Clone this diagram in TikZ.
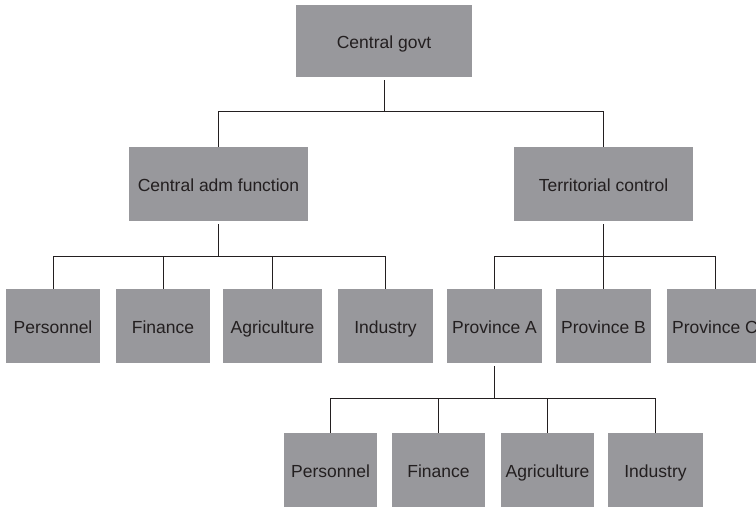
\documentclass[tikz,border=0pt]{standalone}
\usepackage{fontspec}
\setmainfont{Liberation Sans}
\definecolor{boxgray}{RGB}{152,152,156}
\definecolor{inkgray}{RGB}{35,31,32}
\begin{document}
\begin{tikzpicture}[x=1pt,y=-1pt,
      unit/.style={fill=boxgray,text=inkgray,inner sep=0pt,
        minimum width=94pt,minimum height=74pt,
        text height=14.5pt,text depth=0pt,
        font=\fontsize{17.5}{20}\selectfont},
      link/.style={draw=inkgray,line width=0.9pt}]
      \useasboundingbox (0,0) rectangle (756,507);
      % top level
      \path (384,41) node[unit,minimum width=176pt,minimum height=72pt] (govt) {Central govt};
      \path (218.5,184) node[unit,minimum width=179pt] (adm) {Central adm function};
      \path (603.5,184) node[unit,minimum width=179pt] (terr) {Territorial control};
      % ministries
      \path (53,326) node[unit] (pers) {Personnel};
      \path (163,326) node[unit] (fin) {Finance};
      \path (272.5,326) node[unit,minimum width=99pt] (agr) {Agriculture};
      \path (385.5,326) node[unit,minimum width=95pt] (ind) {Industry};
      % provinces
      \path (494.5,326) node[unit,minimum width=95pt] (provA) {Province A};
      \path (603.5,326) node[unit,minimum width=95pt] (provB) {Province B};
      \path (715,326) node[unit,minimum width=96pt] (provC) {Province C};
      % offices of province A
      \path (330.5,470) node[unit,minimum width=93pt] (apers) {Personnel};
      \path (438.5,470) node[unit,minimum width=93pt] (afin) {Finance};
      \path (547.5,470) node[unit,minimum width=93pt] (aagr) {Agriculture};
      \path (655.5,470) node[unit,minimum width=95pt] (aind) {Industry};
      % bus levels
      \coordinate (bus1) at (0,111);
      \coordinate (bus2) at (0,256);
      \coordinate (bus3) at (0,398);
      \foreach \n in {adm,terr}
        \draw[link,shorten <=3pt] (govt.south) -- (govt.south |- bus1) -| (\n.north);
      \foreach \n in {pers,fin,agr,ind}
        \draw[link,shorten <=3pt] (adm.south) -- (adm.south |- bus2) -| (\n.north);
      \foreach \n in {provA,provB,provC}
        \draw[link,shorten <=3pt] (terr.south) -- (terr.south |- bus2) -| (\n.north);
      \foreach \n in {apers,afin,aagr,aind}
        \draw[link,shorten <=3pt] (provA.south) -- (provA.south |- bus3) -| (\n.north);
\end{tikzpicture}
\end{document}
